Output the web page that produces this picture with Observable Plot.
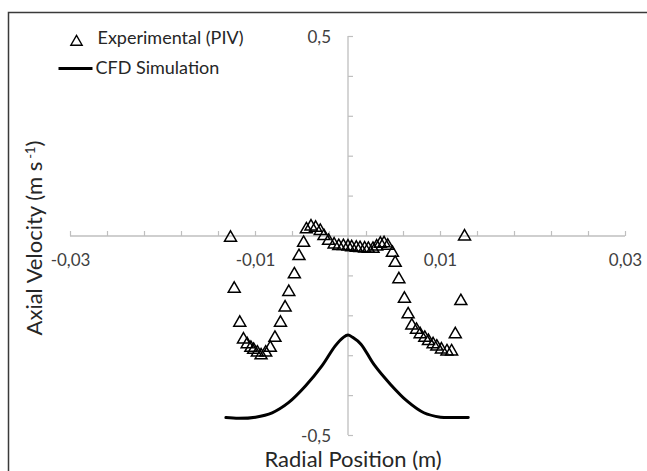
<!DOCTYPE html>
<html><head><meta charset="utf-8">
<script src="https://cdn.jsdelivr.net/npm/d3@7"></script>
<script src="https://cdn.jsdelivr.net/npm/@observablehq/plot@0.6"></script>
<style>body{margin:0;background:#fff} svg{display:block}</style>
</head><body><div id="chart"></div>
<script>
// Experimental (PIV) points
const pivX = [-0.0127,-0.0123,-0.0117,-0.0113,-0.0109,-0.0105,-0.0102,-0.0098,-0.0094,-0.0089,-0.0084,-0.0079,-0.0073,-0.0068,-0.0064,-0.0058,-0.0053,-0.0048,-0.0045,-0.0040,-0.0035,-0.0030,-0.0026,-0.0021,-0.0015,-0.0010,-0.0005,0.0000,0.0004,0.0009,0.0013,0.0018,0.0022,0.0027,0.0031,0.0035,0.0039,0.0043,0.0048,0.0051,0.0055,0.0061,0.0065,0.0069,0.0074,0.0078,0.0083,0.0087,0.0092,0.0096,0.0101,0.0107,0.0112,0.0116,0.0122,0.0126];
const pivY = [0.000,-0.128,-0.213,-0.255,-0.267,-0.276,-0.281,-0.288,-0.295,-0.288,-0.276,-0.251,-0.213,-0.175,-0.136,-0.092,-0.046,-0.013,0.021,0.028,0.025,0.017,0.004,-0.008,-0.017,-0.021,-0.021,-0.022,-0.024,-0.025,-0.026,-0.027,-0.028,-0.028,-0.022,-0.015,-0.014,-0.020,-0.038,-0.063,-0.104,-0.153,-0.192,-0.220,-0.231,-0.242,-0.251,-0.259,-0.267,-0.273,-0.280,-0.285,-0.285,-0.242,-0.159,0.003];
// CFD Simulation curve
const cfdX = [-0.0132,-0.0118,-0.0100,-0.0082,-0.0064,-0.0046,-0.0028,-0.0014,-0.0005,0,0.0005,0.0014,0.0028,0.0046,0.0064,0.0082,0.0100,0.0115,0.0130];
const cfdY = [-0.455,-0.457,-0.454,-0.443,-0.417,-0.376,-0.325,-0.276,-0.254,-0.248,-0.254,-0.271,-0.322,-0.372,-0.414,-0.443,-0.454,-0.455,-0.455];
// axes
const xTicks = [-0.03,-0.026,-0.022,-0.018,-0.014,-0.01,-0.006,-0.002,0.002,0.006,0.01,0.014,0.018,0.022,0.026,0.03];
const yTicks = [-0.5,-0.4,-0.3,-0.2,-0.1,0.1,0.2,0.3,0.4,0.5];
const xLabelVals = [-0.03,-0.01,0.01,0.03];
const xLabelText = ["-0,03","-0,01","0,01","0,03"];
const yLabelVals = [0.5,-0.5];
const yLabelText = ["0,5","-0,5"];
const seriesNames = ["Experimental (PIV)","CFD Simulation"];
const xTitle = "Radial Position (m)";

const piv = pivX.map((x,i)=>({x, y: pivY[i]}));
const cfd = cfdX.map((x,i)=>({x, y: cfdY[i]}));
const xLab = xLabelVals.map((v,i)=>({v, t: xLabelText[i]}));
const yLab = yLabelVals.map((v,i)=>({v, t: yLabelText[i]}));

const vTick = {draw(ctx){ctx.moveTo(0,0); ctx.lineTo(0,-5);}};
const hTick = {draw(ctx){ctx.moveTo(0,0); ctx.lineTo(5,0);}};
const legLine = {draw(ctx){ctx.moveTo(-17,0); ctx.lineTo(17,0);}};
const axisCol = "#bfbfbf";
const font = "Lato, 'Open Sans', sans-serif";

const chart = Plot.plot({
  width: 647, height: 471,
  marginLeft: 70, marginRight: 22, marginTop: 36, marginBottom: 36,
  x: {domain: [-0.03, 0.03], axis: null},
  y: {domain: [-0.5, 0.5], axis: null},
  style: {fontFamily: font, background: "#fff", color: "#262626"},
  marks: [
    Plot.ruleY([0], {stroke: axisCol, strokeWidth: 1.3}),
    Plot.ruleX([0], {stroke: axisCol, strokeWidth: 1.3}),
    Plot.dot(xTicks, {x: d => d, y: 0, symbol: vTick, stroke: axisCol, fill: "none", strokeWidth: 1.2}),
    Plot.dot(yTicks, {x: 0, y: d => d, symbol: hTick, stroke: axisCol, fill: "none", strokeWidth: 1.2}),
    Plot.text(xLab, {x: "v", y: 0, text: "t", dy: 25, fontSize: 17, fill: "#404040"}),
    Plot.text(yLab, {x: 0, y: "v", text: "t", dx: -17, dy: 1, textAnchor: "end", fontSize: 17, fill: "#404040"}),
    Plot.line(cfd, {x: "x", y: "y", stroke: "#000", strokeWidth: 3, curve: "catmull-rom"}),
    Plot.dot(piv, {x: "x", y: "y", symbol: "triangle", r: 4.45, stroke: "#000", strokeWidth: 1.5, fill: "none", dy: 1.7}),
    // legend
    Plot.dot([0], {frameAnchor: "top-left", dx: 6, dy: 5.5, symbol: "triangle", r: 4.2, stroke: "#000", strokeWidth: 1.4, fill: "none"}),
    Plot.text([seriesNames[0]], {frameAnchor: "top-left", dx: 27, dy: 2, lineAnchor: "middle", textAnchor: "start", fontSize: 18, fill: "#262626"}),
    Plot.dot([0], {frameAnchor: "top-left", dx: 5, dy: 32, symbol: legLine, stroke: "#000", strokeWidth: 3, fill: "none"}),
    Plot.text([seriesNames[1]], {frameAnchor: "top-left", dx: 25, dy: 32, lineAnchor: "middle", textAnchor: "start", fontSize: 18, fill: "#262626"}),
    Plot.text([xTitle], {frameAnchor: "bottom", dx: 5, dy: 24, lineAnchor: "middle", fontSize: 22, fill: "#262626"})
  ]
});

const svg = d3.select(chart);
// y axis title with superscript
const yt = svg.append("text")
  .attr("transform", "translate(34,238) rotate(-90)")
  .attr("text-anchor", "middle")
  .attr("dy", "0.35em")
  .attr("font-family", font)
  .attr("font-size", 22)
  .attr("fill", "#262626");
yt.append("tspan").text("Axial Velocity (m s");
yt.append("tspan").attr("dx", 3).attr("dy", -7).attr("font-size", 13).text("-1");
yt.append("tspan").attr("dy", 7).text(")");
// chart border
svg.append("rect").attr("x", 8.5).attr("y", 12.5).attr("width", 700).attr("height", 600)
  .attr("fill", "none").attr("stroke", "#3a3a3a").attr("stroke-width", 1.5);

document.getElementById("chart").appendChild(chart);
</script>
</body></html>
